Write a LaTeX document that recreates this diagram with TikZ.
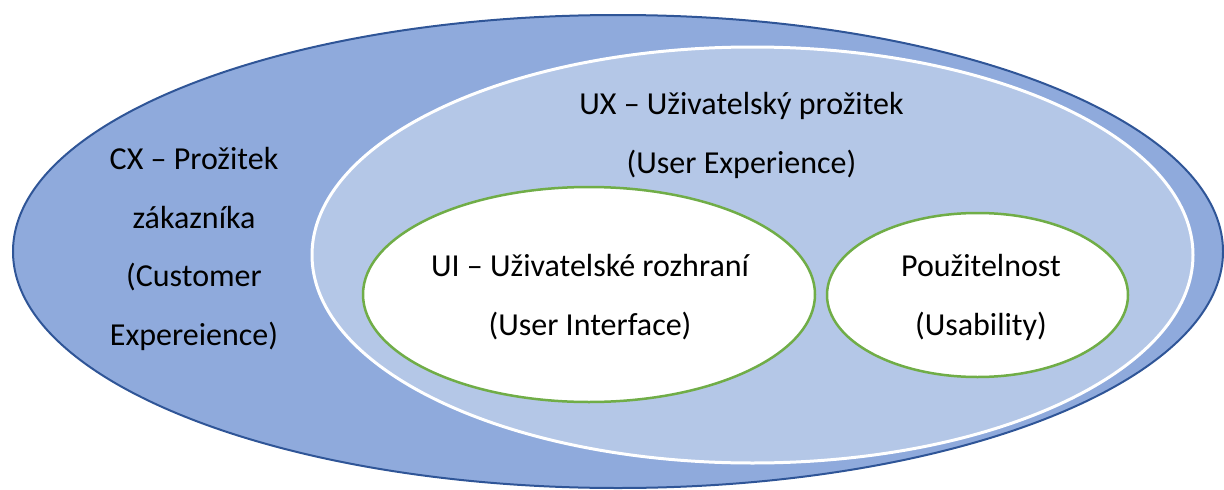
\documentclass[tikz,border=0pt]{standalone}
\usepackage{fontspec}
\setmainfont{Carlito}
\usetikzlibrary{shapes.geometric}
\definecolor{cxfill}{HTML}{8FAADC}
\definecolor{cxline}{HTML}{2F5597}
\definecolor{uxfill}{HTML}{B4C7E7}
\definecolor{uigreen}{HTML}{70AD47}
\tikzset{
  oval/.style={ellipse, inner sep=0pt, outer sep=0pt},
  cxoval/.style={oval, fill=cxfill, draw=cxline, line width=2pt},
  uxoval/.style={oval, fill=uxfill, draw=white, line width=3pt},
  inoval/.style={oval, fill=white, draw=uigreen, line width=2.5pt},
  lbl/.style={align=center, anchor=base, inner sep=0pt,
    font=\fontsize{32}{58.5}\selectfont}
}
\begin{document}
\begin{tikzpicture}[x=1pt,y=-1pt]
\useasboundingbox (0,0) rectangle (1224,490);
\node[cxoval, minimum width=1210pt, minimum height=473pt] (cx) at (618,251.5) {};
\node[uxoval, minimum width=881pt, minimum height=416pt] (ux) at (752.5,255) {};
\node[inoval, minimum width=452pt, minimum height=215pt] (ui) at (589,294.5) {};
\node[inoval, minimum width=301pt, minimum height=164pt] (us) at (977.5,295) {};
\node[lbl] (cxt) at (194,345) {CX – Prožitek\\zákazníka\\(Customer\\Expereience)};
\node[lbl] (uxt) at (741.5,173) {UX – Uživatelský prožitek\\(User Experience)};
\node[lbl] (uit) at (590,335) {UI – Uživatelské rozhraní\\(User Interface)};
\node[lbl] (ust) at (981,335) {Použitelnost\\(Usability)};
\end{tikzpicture}
\end{document}
